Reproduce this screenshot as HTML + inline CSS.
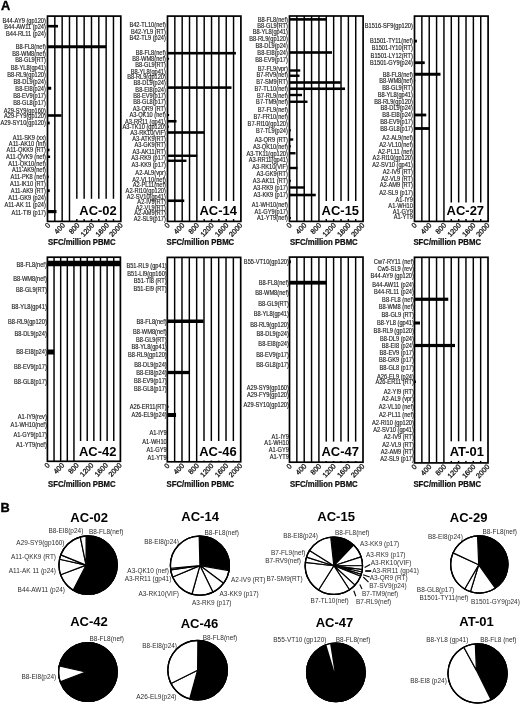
<!DOCTYPE html>
<html lang="en"><head><meta charset="utf-8"><title>Figure</title>
<style>
html,body{margin:0;padding:0;background:#fff;}
body{width:520px;height:704px;overflow:hidden;}
svg{display:block;font-family:"Liberation Sans",sans-serif;}
.l{font-size:6.6px;fill:#1c1c1c;stroke:#1c1c1c;stroke-width:0.15;}
.p{font-size:7.8px;fill:#2e2e2e;}
.t{font-size:7.15px;fill:#111;stroke:#111;stroke-width:0.3;}
.ax{font-size:8.25px;font-weight:bold;fill:#111;stroke:#111;stroke-width:0.25;}
.nm{font-size:13.6px;font-weight:bold;fill:#000;}
.pt{font-size:13.4px;font-weight:bold;fill:#000;}
.pl{font-size:12.8px;font-weight:bold;fill:#000;stroke:#000;stroke-width:0.35;}
.g{stroke:#000;stroke-width:1.45;}
.fr{fill:none;stroke:#000;stroke-width:1.7;}
.b{fill:#000;}
.s{stroke:#000;stroke-width:1.2;stroke-linejoin:round;}
.ns{stroke:none;}
</style></head><body>
<svg width="520" height="704" viewBox="0 0 520 704">
<rect width="520" height="704" fill="#fff"/>
<text class="pl" x="1.1" y="9.5">A</text>
<text class="pl" x="0.5" y="511.7">B</text>
<g>
<path class="g" d="M54.83 16.1V221.4M62.16 16.1V221.4M69.49 16.1V221.4M76.82 16.1V221.4M84.15 16.1V221.4M91.48 16.1V221.4M98.81 16.1V221.4M106.14 16.1V221.4M113.47 16.1V221.4"/>
<rect class="b" x="47.5" y="24.9" width="10.5" height="2.6"/>
<rect class="b" x="47.5" y="45.25" width="58.5" height="3"/>
<rect class="b" x="47.5" y="86.75" width="3.7" height="3"/>
<rect class="b" x="47.5" y="114.2" width="14" height="2.6"/>
<rect class="b" x="47.5" y="121.6" width="2.2" height="2.8"/>
<rect class="b" x="47.5" y="148.7" width="2" height="2.6"/>
<rect class="b" x="47.5" y="155.55" width="2.6" height="2.4"/>
<rect class="b" x="47.5" y="175.65" width="1.2" height="2.2"/>
<rect class="b" x="47.5" y="189.3" width="2.2" height="2.8"/>
<rect class="b" x="47.5" y="210" width="9" height="3.2"/>
<rect x="75" y="198.8" width="45.8" height="20.2" fill="#fff"/>
<text class="nm" transform="translate(116.8 215.1) scale(0.955 1)" text-anchor="end">AC-02</text>
<rect class="fr" x="47.5" y="16.1" width="73.3" height="205.3"/>
<text class="l" transform="translate(45.9 23.15) scale(0.86 1)" text-anchor="end">B44-AY9 (gp120)</text>
<text class="l" transform="translate(45.9 28.95) scale(0.86 1)" text-anchor="end">B44-AW11 (p24)</text>
<text class="l" transform="translate(45.9 35.55) scale(0.86 1)" text-anchor="end">B44-RL11 (p24)</text>
<text class="l" transform="translate(45.9 49.1) scale(0.86 1)" text-anchor="end">B8-FL8(nef)</text>
<text class="l" transform="translate(45.9 55.6) scale(0.86 1)" text-anchor="end">B8-WM8(nef)</text>
<text class="l" transform="translate(45.9 62.35) scale(0.86 1)" text-anchor="end">B8-GL9(RT)</text>
<text class="l" transform="translate(45.9 69.85) scale(0.86 1)" text-anchor="end">B8-YL8(gp41)</text>
<text class="l" transform="translate(45.9 76.85) scale(0.86 1)" text-anchor="end">B8-RL9(gp120)</text>
<text class="l" transform="translate(45.9 83.6) scale(0.86 1)" text-anchor="end">B8-DL9(p24)</text>
<text class="l" transform="translate(45.9 90.6) scale(0.86 1)" text-anchor="end">B8-EI8(p24)</text>
<text class="l" transform="translate(45.9 97.85) scale(0.86 1)" text-anchor="end">B8-EV9(p17)</text>
<text class="l" transform="translate(45.9 104.85) scale(0.86 1)" text-anchor="end">B8-GL8(p17)</text>
<text class="l" transform="translate(45.9 113.35) scale(0.86 1)" text-anchor="end">A29-SY9(gp160)</text>
<text class="l" transform="translate(45.9 118.45) scale(0.86 1)" text-anchor="end">A29-FY9(gp120)</text>
<text class="l" transform="translate(45.9 125.35) scale(0.86 1)" text-anchor="end">A29-SY10(gp120)</text>
<text class="l" transform="translate(45.9 139.85) scale(0.86 1)" text-anchor="end">A11-SK9 (xx)</text>
<text class="l" transform="translate(45.9 146.1) scale(0.86 1)" text-anchor="end">A11-AK10 (Inf)</text>
<text class="l" transform="translate(45.9 152.35) scale(0.86 1)" text-anchor="end">A11-QKK9 (RT)</text>
<text class="l" transform="translate(45.9 159.1) scale(0.86 1)" text-anchor="end">A11-QVK9 (nef)</text>
<text class="l" transform="translate(45.9 165.85) scale(0.86 1)" text-anchor="end">A11-QK10(nef)</text>
<text class="l" transform="translate(45.9 172.35) scale(0.86 1)" text-anchor="end">A11-AK9(nef)</text>
<text class="l" transform="translate(45.9 179.1) scale(0.86 1)" text-anchor="end">A11-PK8 (nef)</text>
<text class="l" transform="translate(45.9 186.05) scale(0.86 1)" text-anchor="end">A11-IK10 (RT)</text>
<text class="l" transform="translate(45.9 193.05) scale(0.86 1)" text-anchor="end">A11-AK9 (RT)</text>
<text class="l" transform="translate(45.9 199.95) scale(0.86 1)" text-anchor="end">A11-GK9 (p24)</text>
<text class="l" transform="translate(45.9 207.25) scale(0.86 1)" text-anchor="end">A11-AK 11 (p24)</text>
<text class="l" transform="translate(45.9 214.85) scale(0.86 1)" text-anchor="end">A11-TI9 (p17)</text>
<text class="t" transform="translate(50.7 225.7) rotate(-47)" text-anchor="end">0</text>
<text class="t" transform="translate(65.36 225.7) rotate(-47)" text-anchor="end">400</text>
<text class="t" transform="translate(80.02 225.7) rotate(-47)" text-anchor="end">800</text>
<text class="t" transform="translate(94.68 225.7) rotate(-47)" text-anchor="end">1200</text>
<text class="t" transform="translate(109.34 225.7) rotate(-47)" text-anchor="end">1600</text>
<text class="t" transform="translate(123.2 225.7) rotate(-47)" text-anchor="end">2000</text>
<text class="ax" transform="translate(48 245.2) scale(0.94 1)">SFC/million PBMC</text>
</g>
<g>
<path class="g" d="M174.84 16.1V221.4M182.18 16.1V221.4M189.52 16.1V221.4M196.86 16.1V221.4M204.2 16.1V221.4M211.54 16.1V221.4M218.88 16.1V221.4M226.22 16.1V221.4M233.56 16.1V221.4"/>
<rect class="b" x="167.5" y="51.9" width="68.4" height="2.6"/>
<rect class="b" x="167.5" y="57.75" width="1.6" height="2"/>
<rect class="b" x="167.5" y="86.3" width="64" height="2.6"/>
<rect class="b" x="167.5" y="114" width="1.6" height="2"/>
<rect class="b" x="167.5" y="119.95" width="9" height="2.6"/>
<rect class="b" x="167.5" y="125.75" width="1.2" height="2"/>
<rect class="b" x="167.5" y="131.2" width="36.75" height="2.6"/>
<rect class="b" x="167.5" y="154.55" width="29.75" height="2.4"/>
<rect class="b" x="167.5" y="159.55" width="19" height="2.4"/>
<rect class="b" x="167.5" y="199.45" width="16.75" height="2.6"/>
<rect x="200" y="201" width="40.9" height="18" fill="#fff"/>
<text class="nm" transform="translate(236.9 215.1) scale(0.955 1)" text-anchor="end">AC-14</text>
<rect class="fr" x="167.5" y="16.1" width="73.4" height="205.3"/>
<text class="l" transform="translate(165.9 27.35) scale(0.86 1)" text-anchor="end">B42-TL10(nef)</text>
<text class="l" transform="translate(165.9 34.1) scale(0.86 1)" text-anchor="end">B42-YL9 (RT)</text>
<text class="l" transform="translate(165.9 40.35) scale(0.86 1)" text-anchor="end">B42-TL9 (p24)</text>
<text class="l" transform="translate(165.9 54.85) scale(0.86 1)" text-anchor="end">B8-FL8(nef)</text>
<text class="l" transform="translate(165.9 61.1) scale(0.86 1)" text-anchor="end">B8-WM8(nef)</text>
<text class="l" transform="translate(165.9 67.35) scale(0.86 1)" text-anchor="end">B8-GL9(RT)</text>
<text class="l" transform="translate(165.9 73.6) scale(0.86 1)" text-anchor="end">B8-YL8(gp41)</text>
<text class="l" transform="translate(165.9 79.1) scale(0.86 1)" text-anchor="end">B8-RL9(gp120)</text>
<text class="l" transform="translate(165.9 85.35) scale(0.86 1)" text-anchor="end">B8-DL9(p24)</text>
<text class="l" transform="translate(165.9 91.85) scale(0.86 1)" text-anchor="end">B8-EI8(p24)</text>
<text class="l" transform="translate(165.9 97.85) scale(0.86 1)" text-anchor="end">B8-EV9(p17)</text>
<text class="l" transform="translate(165.9 103.85) scale(0.86 1)" text-anchor="end">B8-GL8(p17)</text>
<text class="l" transform="translate(165.9 111.1) scale(0.86 1)" text-anchor="end">A3-QR9 (RT)</text>
<text class="l" transform="translate(165.9 117.35) scale(0.86 1)" text-anchor="end">A3-QK10 (nef)</text>
<text class="l" transform="translate(165.9 123.6) scale(0.86 1)" text-anchor="end">A3-RR11 (gp41)</text>
<text class="l" transform="translate(165.9 129.1) scale(0.86 1)" text-anchor="end">A3-TK10 (gp120)</text>
<text class="l" transform="translate(165.9 134.85) scale(0.86 1)" text-anchor="end">A3-RK10(VIF)</text>
<text class="l" transform="translate(165.9 141.1) scale(0.86 1)" text-anchor="end">A3-ATK9(RT)</text>
<text class="l" transform="translate(165.9 147.35) scale(0.86 1)" text-anchor="end">A3-GK9(RT)</text>
<text class="l" transform="translate(165.9 153.6) scale(0.86 1)" text-anchor="end">A3-AK11(RT)</text>
<text class="l" transform="translate(165.9 159.85) scale(0.86 1)" text-anchor="end">A3-RK9 (p17)</text>
<text class="l" transform="translate(165.9 166.6) scale(0.86 1)" text-anchor="end">A3-KK9 (p17)</text>
<text class="l" transform="translate(165.9 175.35) scale(0.86 1)" text-anchor="end">A2-AL9(vpr)</text>
<text class="l" transform="translate(165.9 181.65) scale(0.86 1)" text-anchor="end">A2-VL10(nef)</text>
<text class="l" transform="translate(165.9 187.35) scale(0.86 1)" text-anchor="end">A2-PL11(nef)</text>
<text class="l" transform="translate(165.9 193.05) scale(0.86 1)" text-anchor="end">A2-RI10(gp120)</text>
<text class="l" transform="translate(165.9 198.85) scale(0.86 1)" text-anchor="end">A2-SV10(gp41)</text>
<text class="l" transform="translate(165.9 204.35) scale(0.86 1)" text-anchor="end">A2-IV9(RT)</text>
<text class="l" transform="translate(165.9 209.85) scale(0.86 1)" text-anchor="end">A2-VL9(RT)</text>
<text class="l" transform="translate(165.9 215.35) scale(0.86 1)" text-anchor="end">A2-AM9(RT)</text>
<text class="l" transform="translate(165.9 220.6) scale(0.86 1)" text-anchor="end">A2-SL9(p17)</text>
<text class="t" transform="translate(170.2 225.7) rotate(-47)" text-anchor="end">0</text>
<text class="t" transform="translate(184.88 225.7) rotate(-47)" text-anchor="end">400</text>
<text class="t" transform="translate(199.56 225.7) rotate(-47)" text-anchor="end">800</text>
<text class="t" transform="translate(214.24 225.7) rotate(-47)" text-anchor="end">1200</text>
<text class="t" transform="translate(228.92 225.7) rotate(-47)" text-anchor="end">1600</text>
<text class="t" transform="translate(242.8 225.7) rotate(-47)" text-anchor="end">2000</text>
<text class="ax" transform="translate(166.6 245.2) scale(0.94 1)">SFC/million PBMC</text>
</g>
<g>
<path class="g" d="M296.86 16V221.4M304.22 16V221.4M311.58 16V221.4M318.94 16V221.4M326.3 16V221.4M333.66 16V221.4M341.02 16V221.4M348.38 16V221.4M355.74 16V221.4"/>
<rect class="b" x="289.5" y="18.1" width="37" height="2.6"/>
<rect class="b" x="289.5" y="51.2" width="42.5" height="2.6"/>
<rect class="b" x="289.5" y="69.3" width="10.75" height="2.4"/>
<rect class="b" x="289.5" y="74.55" width="10" height="2.4"/>
<rect class="b" x="289.5" y="81.2" width="51.25" height="2.6"/>
<rect class="b" x="289.5" y="87.45" width="55.5" height="2.6"/>
<rect class="b" x="289.5" y="93.8" width="12.5" height="2.4"/>
<rect class="b" x="289.5" y="100.55" width="18" height="2.4"/>
<rect class="b" x="289.5" y="129.25" width="1.4" height="2"/>
<rect class="b" x="289.5" y="138.3" width="3.75" height="2.4"/>
<rect class="b" x="289.5" y="145.25" width="1.4" height="2"/>
<rect class="b" x="289.5" y="152.05" width="6" height="2.4"/>
<rect class="b" x="289.5" y="166.8" width="8" height="2.4"/>
<rect class="b" x="289.5" y="179.75" width="1.4" height="2"/>
<rect class="b" x="289.5" y="186.3" width="15.5" height="2.4"/>
<rect class="b" x="289.5" y="193.7" width="26.25" height="2.6"/>
<rect class="b" x="289.5" y="217" width="1.4" height="2"/>
<rect x="320" y="201" width="43.1" height="18" fill="#fff"/>
<text class="nm" transform="translate(359.1 215.1) scale(0.955 1)" text-anchor="end">AC-15</text>
<rect class="fr" x="289.5" y="16" width="73.6" height="205.4"/>
<text class="l" transform="translate(287.9 21.55) scale(0.86 1)" text-anchor="end">B8-FL8(nef)</text>
<text class="l" transform="translate(287.9 28.35) scale(0.86 1)" text-anchor="end">B8-GL9(RT)</text>
<text class="l" transform="translate(287.9 34.35) scale(0.86 1)" text-anchor="end">B8-YL8(gp41)</text>
<text class="l" transform="translate(287.9 41.1) scale(0.86 1)" text-anchor="end">B8-RL9(gp120)</text>
<text class="l" transform="translate(287.9 48.1) scale(0.86 1)" text-anchor="end">B8-DL9(p24)</text>
<text class="l" transform="translate(287.9 54.85) scale(0.86 1)" text-anchor="end">B8-EI8(p24)</text>
<text class="l" transform="translate(287.9 61.85) scale(0.86 1)" text-anchor="end">B8-EV9(p17)</text>
<text class="l" transform="translate(287.9 71.1) scale(0.86 1)" text-anchor="end">B7-FL9(vpr)</text>
<text class="l" transform="translate(287.9 76.85) scale(0.86 1)" text-anchor="end">B7-RV9(nef)</text>
<text class="l" transform="translate(287.9 84.1) scale(0.86 1)" text-anchor="end">B7-SM9(RT)</text>
<text class="l" transform="translate(287.9 91.1) scale(0.86 1)" text-anchor="end">B7-TL10(nef)</text>
<text class="l" transform="translate(287.9 97.85) scale(0.86 1)" text-anchor="end">B7-RL9(nef)</text>
<text class="l" transform="translate(287.9 104.35) scale(0.86 1)" text-anchor="end">B7-TM9(nef)</text>
<text class="l" transform="translate(287.9 111.6) scale(0.86 1)" text-anchor="end">B7-FL9(nef)</text>
<text class="l" transform="translate(287.9 118.6) scale(0.86 1)" text-anchor="end">B7-FR10(nef)</text>
<text class="l" transform="translate(287.9 125.85) scale(0.86 1)" text-anchor="end">B7-RI10(gp120)</text>
<text class="l" transform="translate(287.9 132.6) scale(0.86 1)" text-anchor="end">B7-TL9(p24)</text>
<text class="l" transform="translate(287.9 141.85) scale(0.86 1)" text-anchor="end">A3-QR9 (RT)</text>
<text class="l" transform="translate(287.9 148.6) scale(0.86 1)" text-anchor="end">A3-QK10(nef)</text>
<text class="l" transform="translate(287.9 155.6) scale(0.86 1)" text-anchor="end">A3-TK11(gp120)</text>
<text class="l" transform="translate(287.9 162.35) scale(0.86 1)" text-anchor="end">A3-RR11(gp41)</text>
<text class="l" transform="translate(287.9 169.1) scale(0.86 1)" text-anchor="end">A3-RK10(VIF)</text>
<text class="l" transform="translate(287.9 176.1) scale(0.86 1)" text-anchor="end">A3-GK9(RT)</text>
<text class="l" transform="translate(287.9 183.1) scale(0.86 1)" text-anchor="end">A3-AK11 (RT)</text>
<text class="l" transform="translate(287.9 189.85) scale(0.86 1)" text-anchor="end">A3-RK9 (p17)</text>
<text class="l" transform="translate(287.9 196.6) scale(0.86 1)" text-anchor="end">A3-KK9 (p17)</text>
<text class="l" transform="translate(287.9 206.6) scale(0.86 1)" text-anchor="end">A1-WH10(nef)</text>
<text class="l" transform="translate(287.9 213.6) scale(0.86 1)" text-anchor="end">A1-GY9(p17)</text>
<text class="l" transform="translate(287.9 220.35) scale(0.86 1)" text-anchor="end">A1-YT9(nef)</text>
<text class="t" transform="translate(292.2 225.7) rotate(-47)" text-anchor="end">0</text>
<text class="t" transform="translate(306.92 225.7) rotate(-47)" text-anchor="end">400</text>
<text class="t" transform="translate(321.64 225.7) rotate(-47)" text-anchor="end">800</text>
<text class="t" transform="translate(336.36 225.7) rotate(-47)" text-anchor="end">1200</text>
<text class="t" transform="translate(351.08 225.7) rotate(-47)" text-anchor="end">1600</text>
<text class="t" transform="translate(365 225.7) rotate(-47)" text-anchor="end">2000</text>
<text class="ax" transform="translate(290.1 245.2) scale(0.94 1)">SFC/million PBMC</text>
</g>
<g>
<path class="g" d="M421.86 16.1V221.4M429.22 16.1V221.4M436.58 16.1V221.4M443.94 16.1V221.4M451.3 16.1V221.4M458.66 16.1V221.4M466.02 16.1V221.4M473.38 16.1V221.4M480.74 16.1V221.4"/>
<rect class="b" x="414.5" y="39.7" width="2.4" height="2.8"/>
<rect class="b" x="414.5" y="61.3" width="10.25" height="2.8"/>
<rect class="b" x="414.5" y="72.75" width="26" height="3"/>
<rect class="b" x="414.5" y="79.7" width="0.8" height="1.6"/>
<rect class="b" x="414.5" y="113.6" width="11.75" height="2.8"/>
<rect class="b" x="414.5" y="127.1" width="15" height="2.8"/>
<rect x="445" y="202.5" width="43.1" height="16.5" fill="#fff"/>
<text class="nm" transform="translate(484.1 215.1) scale(0.955 1)" text-anchor="end">AC-27</text>
<rect class="fr" x="414.5" y="16.1" width="73.6" height="205.3"/>
<text class="l" transform="translate(412.9 28.05) scale(0.86 1)" text-anchor="end">B1516-SF9(gp120)</text>
<text class="l" transform="translate(412.9 43.45) scale(0.86 1)" text-anchor="end">B1501-TY11(nef)</text>
<text class="l" transform="translate(412.9 50.35) scale(0.86 1)" text-anchor="end">B1501-IY10(RT)</text>
<text class="l" transform="translate(412.9 57.95) scale(0.86 1)" text-anchor="end">B1501-LY12(RT)</text>
<text class="l" transform="translate(412.9 65.05) scale(0.86 1)" text-anchor="end">B1501-GY9(p24)</text>
<text class="l" transform="translate(412.9 76.6) scale(0.86 1)" text-anchor="end">B8-FL8(nef)</text>
<text class="l" transform="translate(412.9 82.85) scale(0.86 1)" text-anchor="end">B8-WM8(nef)</text>
<text class="l" transform="translate(412.9 89.85) scale(0.86 1)" text-anchor="end">B8-GL9(RT)</text>
<text class="l" transform="translate(412.9 96.85) scale(0.86 1)" text-anchor="end">B8-YL8(gp41)</text>
<text class="l" transform="translate(412.9 104.1) scale(0.86 1)" text-anchor="end">B8-RL9(gp120)</text>
<text class="l" transform="translate(412.9 110.35) scale(0.86 1)" text-anchor="end">B8-DL9(p24)</text>
<text class="l" transform="translate(412.9 117.35) scale(0.86 1)" text-anchor="end">B8-EI8(p24)</text>
<text class="l" transform="translate(412.9 123.85) scale(0.86 1)" text-anchor="end">B8-EV9(p17)</text>
<text class="l" transform="translate(412.9 130.85) scale(0.86 1)" text-anchor="end">B8-GL8(p17)</text>
<text class="l" transform="translate(412.9 140.35) scale(0.86 1)" text-anchor="end">A2-AL9(nef)</text>
<text class="l" transform="translate(412.9 146.85) scale(0.86 1)" text-anchor="end">A2-VL10(nef)</text>
<text class="l" transform="translate(412.9 153.6) scale(0.86 1)" text-anchor="end">A2-PL11 (nef)</text>
<text class="l" transform="translate(412.9 160.35) scale(0.86 1)" text-anchor="end">A2-RI10(gp120)</text>
<text class="l" transform="translate(412.9 166.85) scale(0.86 1)" text-anchor="end">A2-SV10 (gp41)</text>
<text class="l" transform="translate(412.9 174.35) scale(0.86 1)" text-anchor="end">A2-IV9 (RT)</text>
<text class="l" transform="translate(412.9 180.6) scale(0.86 1)" text-anchor="end">A2-VL9 (RT)</text>
<text class="l" transform="translate(412.9 187.35) scale(0.86 1)" text-anchor="end">A2-AM9 (RT)</text>
<text class="l" transform="translate(412.9 194.85) scale(0.86 1)" text-anchor="end">A2-SL9 (p17)</text>
<text class="l" transform="translate(412.9 202.35) scale(0.86 1)" text-anchor="end">A1-IY9</text>
<text class="l" transform="translate(412.9 207.85) scale(0.86 1)" text-anchor="end">A1-WH10</text>
<text class="l" transform="translate(412.9 213.6) scale(0.86 1)" text-anchor="end">A1-GY9</text>
<text class="l" transform="translate(412.9 219.35) scale(0.86 1)" text-anchor="end">A1-YT9</text>
<text class="t" transform="translate(417.2 225.7) rotate(-47)" text-anchor="end">0</text>
<text class="t" transform="translate(431.92 225.7) rotate(-47)" text-anchor="end">400</text>
<text class="t" transform="translate(446.64 225.7) rotate(-47)" text-anchor="end">800</text>
<text class="t" transform="translate(461.36 225.7) rotate(-47)" text-anchor="end">1200</text>
<text class="t" transform="translate(476.08 225.7) rotate(-47)" text-anchor="end">1600</text>
<text class="t" transform="translate(490 225.7) rotate(-47)" text-anchor="end">2000</text>
<text class="ax" transform="translate(413.4 245.2) scale(0.94 1)">SFC/million PBMC</text>
</g>
<g>
<path class="g" d="M54.04 257.2V461.3M60.67 257.2V461.3M67.31 257.2V461.3M73.95 257.2V461.3M80.58 257.2V461.3M87.22 257.2V461.3M93.85 257.2V461.3M100.49 257.2V461.3M107.13 257.2V461.3M113.76 257.2V461.3"/>
<rect class="b" x="47.4" y="260.75" width="73" height="5.5"/>
<rect class="b" x="47.4" y="349.5" width="6.75" height="5"/>
<rect x="75" y="441" width="45.4" height="20.3" fill="#fff"/>
<text class="nm" transform="translate(116.4 456.2) scale(0.955 1)" text-anchor="end">AC-42</text>
<rect class="fr" x="47.4" y="257.2" width="73" height="204.1"/>
<text class="l" transform="translate(46.8 266.85) scale(0.86 1)" text-anchor="end">B8-FL8(nef)</text>
<text class="l" transform="translate(46.8 281.1) scale(0.86 1)" text-anchor="end">B8-WM8(nef)</text>
<text class="l" transform="translate(46.8 292.35) scale(0.86 1)" text-anchor="end">B8-GL9(RT)</text>
<text class="l" transform="translate(46.8 309.35) scale(0.86 1)" text-anchor="end">B8-YL8(gp41)</text>
<text class="l" transform="translate(46.8 324.35) scale(0.86 1)" text-anchor="end">B8-RL9(gp120)</text>
<text class="l" transform="translate(46.8 336.1) scale(0.86 1)" text-anchor="end">B8-DL9(p24)</text>
<text class="l" transform="translate(46.8 354.35) scale(0.86 1)" text-anchor="end">B8-EI8(p24)</text>
<text class="l" transform="translate(46.8 368.6) scale(0.86 1)" text-anchor="end">B8-EV9(p17)</text>
<text class="l" transform="translate(46.8 384.35) scale(0.86 1)" text-anchor="end">B8-GL8(p17)</text>
<text class="l" transform="translate(46.8 418.6) scale(0.86 1)" text-anchor="end">A1-IY9(rev)</text>
<text class="l" transform="translate(46.8 426.6) scale(0.86 1)" text-anchor="end">A1-WH10(nef)</text>
<text class="l" transform="translate(46.8 436.6) scale(0.86 1)" text-anchor="end">A1-GY9(p17)</text>
<text class="l" transform="translate(46.8 446.6) scale(0.86 1)" text-anchor="end">A1-YT9(nef)</text>
<text class="t" transform="translate(50.1 465.6) rotate(-47)" text-anchor="end">0</text>
<text class="t" transform="translate(64.7 465.6) rotate(-47)" text-anchor="end">400</text>
<text class="t" transform="translate(79.3 465.6) rotate(-47)" text-anchor="end">800</text>
<text class="t" transform="translate(93.9 465.6) rotate(-47)" text-anchor="end">1200</text>
<text class="t" transform="translate(108.5 465.6) rotate(-47)" text-anchor="end">1600</text>
<text class="t" transform="translate(122.3 465.6) rotate(-47)" text-anchor="end">2000</text>
<text class="ax" transform="translate(48 487.2) scale(0.94 1)">SFC/million PBMC</text>
</g>
<g>
<path class="g" d="M174.64 257.4V461.8M181.98 257.4V461.8M189.32 257.4V461.8M196.66 257.4V461.8M204 257.4V461.8M211.34 257.4V461.8M218.68 257.4V461.8M226.02 257.4V461.8M233.36 257.4V461.8"/>
<rect class="b" x="167.3" y="319.5" width="36.25" height="3.5"/>
<rect class="b" x="167.3" y="370.85" width="22" height="3.3"/>
<rect class="b" x="167.3" y="405.75" width="1.2" height="2"/>
<rect class="b" x="167.3" y="413" width="8.75" height="4"/>
<rect x="198.5" y="441" width="42.2" height="19.6" fill="#fff"/>
<text class="nm" transform="translate(236.7 456.2) scale(0.955 1)" text-anchor="end">AC-46</text>
<rect class="fr" x="167.3" y="257.4" width="73.4" height="204.4"/>
<text class="l" transform="translate(166.7 267.85) scale(0.86 1)" text-anchor="end">B51-RL9 (gp41)</text>
<text class="l" transform="translate(166.7 275.6) scale(0.86 1)" text-anchor="end">B51-LI9(gp160)</text>
<text class="l" transform="translate(166.7 283.1) scale(0.86 1)" text-anchor="end">B51-TI8 (RT)</text>
<text class="l" transform="translate(166.7 290.6) scale(0.86 1)" text-anchor="end">B51-EI9 (RT)</text>
<text class="l" transform="translate(166.7 323.6) scale(0.86 1)" text-anchor="end">B8-FL8(nef)</text>
<text class="l" transform="translate(166.7 333.6) scale(0.86 1)" text-anchor="end">B8-WM8(nef)</text>
<text class="l" transform="translate(166.7 341.6) scale(0.86 1)" text-anchor="end">B8-GL9(RT)</text>
<text class="l" transform="translate(166.7 349.1) scale(0.86 1)" text-anchor="end">B8-YL8(gp41)</text>
<text class="l" transform="translate(166.7 357.35) scale(0.86 1)" text-anchor="end">B8-RL9(gp120)</text>
<text class="l" transform="translate(166.7 366.6) scale(0.86 1)" text-anchor="end">B8-DL9(p24)</text>
<text class="l" transform="translate(166.7 374.85) scale(0.86 1)" text-anchor="end">B8-EI8(p24)</text>
<text class="l" transform="translate(166.7 382.6) scale(0.86 1)" text-anchor="end">B8-EV9(p17)</text>
<text class="l" transform="translate(166.7 390.6) scale(0.86 1)" text-anchor="end">B8-GL8(p17)</text>
<text class="l" transform="translate(166.7 409.1) scale(0.86 1)" text-anchor="end">A26-ER11(RT)</text>
<text class="l" transform="translate(166.7 417.35) scale(0.86 1)" text-anchor="end">A26-EL9(p24)</text>
<text class="l" transform="translate(166.7 434.85) scale(0.86 1)" text-anchor="end">A1-IY9</text>
<text class="l" transform="translate(166.7 443.6) scale(0.86 1)" text-anchor="end">A1-WH10</text>
<text class="l" transform="translate(166.7 452.35) scale(0.86 1)" text-anchor="end">A1-GY9</text>
<text class="l" transform="translate(166.7 460.35) scale(0.86 1)" text-anchor="end">A1-YT9</text>
<text class="t" transform="translate(170 466.1) rotate(-47)" text-anchor="end">0</text>
<text class="t" transform="translate(184.68 466.1) rotate(-47)" text-anchor="end">400</text>
<text class="t" transform="translate(199.36 466.1) rotate(-47)" text-anchor="end">800</text>
<text class="t" transform="translate(214.04 466.1) rotate(-47)" text-anchor="end">1200</text>
<text class="t" transform="translate(228.72 466.1) rotate(-47)" text-anchor="end">1600</text>
<text class="t" transform="translate(242.6 466.1) rotate(-47)" text-anchor="end">2000</text>
<text class="ax" transform="translate(166.6 487.2) scale(0.94 1)">SFC/million PBMC</text>
</g>
<g>
<path class="g" d="M296.85 257.1V462.2M304.2 257.1V462.2M311.55 257.1V462.2M318.9 257.1V462.2M326.25 257.1V462.2M333.6 257.1V462.2M340.95 257.1V462.2M348.3 257.1V462.2M355.65 257.1V462.2"/>
<rect class="b" x="289.5" y="260.25" width="1.4" height="3"/>
<rect class="b" x="289.5" y="280.8" width="36.9" height="3.8"/>
<rect x="321" y="441.6" width="42" height="19.4" fill="#fff"/>
<text class="nm" transform="translate(359 456.2) scale(0.955 1)" text-anchor="end">AC-47</text>
<rect class="fr" x="289.5" y="257.1" width="73.5" height="205.1"/>
<text class="l" transform="translate(288.9 264.1) scale(0.86 1)" text-anchor="end">B55-VT10(gp120)</text>
<text class="l" transform="translate(288.9 284.85) scale(0.86 1)" text-anchor="end">B8-FL8(nef)</text>
<text class="l" transform="translate(288.9 295.35) scale(0.86 1)" text-anchor="end">B8-WM8(nef)</text>
<text class="l" transform="translate(288.9 305.6) scale(0.86 1)" text-anchor="end">B8-GL9(RT)</text>
<text class="l" transform="translate(288.9 315.6) scale(0.86 1)" text-anchor="end">B8-YL8(gp41)</text>
<text class="l" transform="translate(288.9 326.6) scale(0.86 1)" text-anchor="end">B8-RL9(gp120)</text>
<text class="l" transform="translate(288.9 335.6) scale(0.86 1)" text-anchor="end">B8-DL9(p24)</text>
<text class="l" transform="translate(288.9 346.1) scale(0.86 1)" text-anchor="end">B8-EI8(p24)</text>
<text class="l" transform="translate(288.9 356.85) scale(0.86 1)" text-anchor="end">B8-EV9(p17)</text>
<text class="l" transform="translate(288.9 367.35) scale(0.86 1)" text-anchor="end">B8-GL8(p17)</text>
<text class="l" transform="translate(288.9 389.85) scale(0.86 1)" text-anchor="end">A29-SY9(gp160)</text>
<text class="l" transform="translate(288.9 396.85) scale(0.86 1)" text-anchor="end">A29-FY9(gp120)</text>
<text class="l" transform="translate(288.9 406.85) scale(0.86 1)" text-anchor="end">A29-SY10(gp120)</text>
<text class="l" transform="translate(288.9 438.6) scale(0.86 1)" text-anchor="end">A1-IY9</text>
<text class="l" transform="translate(288.9 445.35) scale(0.86 1)" text-anchor="end">A1-WH10</text>
<text class="l" transform="translate(288.9 451.85) scale(0.86 1)" text-anchor="end">A1-GY9</text>
<text class="l" transform="translate(288.9 459.1) scale(0.86 1)" text-anchor="end">A1-YT9</text>
<text class="t" transform="translate(292.2 466.5) rotate(-47)" text-anchor="end">0</text>
<text class="t" transform="translate(306.9 466.5) rotate(-47)" text-anchor="end">400</text>
<text class="t" transform="translate(321.6 466.5) rotate(-47)" text-anchor="end">800</text>
<text class="t" transform="translate(336.3 466.5) rotate(-47)" text-anchor="end">1200</text>
<text class="t" transform="translate(351 466.5) rotate(-47)" text-anchor="end">1600</text>
<text class="t" transform="translate(364.9 466.5) rotate(-47)" text-anchor="end">2000</text>
<text class="ax" transform="translate(290.1 487.2) scale(0.94 1)">SFC/million PBMC</text>
</g>
<g>
<path class="g" d="M421.85 257.3V462.9M429.2 257.3V462.9M436.55 257.3V462.9M443.9 257.3V462.9M451.25 257.3V462.9M458.6 257.3V462.9M465.95 257.3V462.9M473.3 257.3V462.9M480.65 257.3V462.9"/>
<rect class="b" x="414.5" y="297.65" width="33.75" height="3.2"/>
<rect class="b" x="414.5" y="321.5" width="5.5" height="3"/>
<rect class="b" x="414.5" y="343.9" width="40.5" height="3.2"/>
<rect class="b" x="414.5" y="380.55" width="1.4" height="2.4"/>
<rect x="446" y="441.3" width="42" height="19.6" fill="#fff"/>
<text class="nm" transform="translate(484 456.2) scale(0.955 1)" text-anchor="end">AT-01</text>
<rect class="fr" x="414.5" y="257.3" width="73.5" height="205.6"/>
<text class="l" transform="translate(413.9 264.1) scale(0.86 1)" text-anchor="end">Cw7-RY11 (nef)</text>
<text class="l" transform="translate(413.9 271.1) scale(0.86 1)" text-anchor="end">Cw5-SL9 (rev)</text>
<text class="l" transform="translate(413.9 278.1) scale(0.86 1)" text-anchor="end">B44-AY9 (gp120)</text>
<text class="l" transform="translate(413.9 286.6) scale(0.86 1)" text-anchor="end">B44-AW11 (p24)</text>
<text class="l" transform="translate(413.9 294.35) scale(0.86 1)" text-anchor="end">B44-RL11 (p24)</text>
<text class="l" transform="translate(413.9 301.6) scale(0.86 1)" text-anchor="end">B8-FL8 (nef)</text>
<text class="l" transform="translate(413.9 309.1) scale(0.86 1)" text-anchor="end">B8-WM8 (nef)</text>
<text class="l" transform="translate(413.9 317.35) scale(0.86 1)" text-anchor="end">B8-GL9 (RT)</text>
<text class="l" transform="translate(413.9 325.35) scale(0.86 1)" text-anchor="end">B8-YL8 (gp41)</text>
<text class="l" transform="translate(413.9 332.85) scale(0.86 1)" text-anchor="end">B8-RL9 (gp120)</text>
<text class="l" transform="translate(413.9 340.6) scale(0.86 1)" text-anchor="end">B8-DL9 (p24)</text>
<text class="l" transform="translate(413.9 347.85) scale(0.86 1)" text-anchor="end">B8-EI8 (p24)</text>
<text class="l" transform="translate(413.9 354.85) scale(0.86 1)" text-anchor="end">B8-EV9 (p17)</text>
<text class="l" transform="translate(413.9 362.35) scale(0.86 1)" text-anchor="end">B8-GK9 (p17)</text>
<text class="l" transform="translate(413.9 370.35) scale(0.86 1)" text-anchor="end">B8-GL8 (p17)</text>
<text class="l" transform="translate(413.9 378.6) scale(0.86 1)" text-anchor="end">A26-EL9 (p24)</text>
<text class="l" transform="translate(413.9 384.1) scale(0.86 1)" text-anchor="end">A26-ER11 (RT)</text>
<text class="l" transform="translate(413.9 393.6) scale(0.86 1)" text-anchor="end">A2-YI9 (RT)</text>
<text class="l" transform="translate(413.9 401.1) scale(0.86 1)" text-anchor="end">A2-AL9 (vpr)</text>
<text class="l" transform="translate(413.9 408.6) scale(0.86 1)" text-anchor="end">A2-VL10 (nef)</text>
<text class="l" transform="translate(413.9 416.6) scale(0.86 1)" text-anchor="end">A2-PL11 (nef)</text>
<text class="l" transform="translate(413.9 424.85) scale(0.86 1)" text-anchor="end">A2-RI10 (gp120)</text>
<text class="l" transform="translate(413.9 431.6) scale(0.86 1)" text-anchor="end">A2-SV10 (gp41)</text>
<text class="l" transform="translate(413.9 439.35) scale(0.86 1)" text-anchor="end">A2-IV9 (RT)</text>
<text class="l" transform="translate(413.9 446.6) scale(0.86 1)" text-anchor="end">A2-VL9 (RT)</text>
<text class="l" transform="translate(413.9 454.35) scale(0.86 1)" text-anchor="end">A2-AM9 (RT)</text>
<text class="l" transform="translate(413.9 461.1) scale(0.86 1)" text-anchor="end">A2-SL9 (p17)</text>
<text class="t" transform="translate(417.2 467.2) rotate(-47)" text-anchor="end">0</text>
<text class="t" transform="translate(431.9 467.2) rotate(-47)" text-anchor="end">400</text>
<text class="t" transform="translate(446.6 467.2) rotate(-47)" text-anchor="end">800</text>
<text class="t" transform="translate(461.3 467.2) rotate(-47)" text-anchor="end">1200</text>
<text class="t" transform="translate(476 467.2) rotate(-47)" text-anchor="end">1600</text>
<text class="t" transform="translate(489.9 467.2) rotate(-47)" text-anchor="end">2000</text>
<text class="ax" transform="translate(413.4 487.2) scale(0.94 1)">SFC/million PBMC</text>
</g>
<g>
<text class="pt" transform="translate(89.2 522.05) scale(0.975 1)" text-anchor="middle">AC-02</text>
<circle cx="88.1" cy="565.1" r="29.1" fill="#fff" stroke="#000" stroke-width="1.3"/>
<path class="s" fill="#000" d="M86.1 565.1L86.07 536.07A29.1 29.1 0 1 1 73.24 590.12Z"/>
<path class="s" fill="#fff" d="M86.1 565.1L73.24 590.12A29.1 29.1 0 0 1 60.64 574.72Z"/>
<path class="s" fill="#fff" d="M86.1 565.1L60.64 574.72A29.1 29.1 0 0 1 59.59 559.25Z"/>
<path class="s" fill="#fff" d="M86.1 565.1L59.59 559.25A29.1 29.1 0 0 1 60.86 554.86Z"/>
<path class="s" fill="#fff" d="M86.1 565.1L60.86 554.86A29.1 29.1 0 0 1 80.32 537.06Z"/>
<path class="s" fill="#fff" d="M86.1 565.1L80.32 537.06A29.1 29.1 0 0 1 86.07 536.07Z"/>
<circle cx="88.1" cy="565.1" r="29.1" fill="none" stroke="#000" stroke-width="1.3"/>
<text class="p" transform="translate(83.3 532.8) scale(0.83 1)" text-anchor="end">B8-EI8(p24)</text>
<text class="p" transform="translate(88.9 534.4) scale(0.83 1)" text-anchor="start">B8-FL8(nef)</text>
<text class="p" transform="translate(64.5 545.3) scale(0.83 1)" text-anchor="end">A29-SY9(gp160)</text>
<text class="p" transform="translate(56 558.55) scale(0.83 1)" text-anchor="end">A11-QKK9 (RT)</text>
<text class="p" transform="translate(56 573.3) scale(0.83 1)" text-anchor="end">A11-AK 11 (p24)</text>
<text class="p" transform="translate(65 592.3) scale(0.83 1)" text-anchor="end">B44-AW11 (p24)</text>
</g>
<g>
<text class="pt" transform="translate(200.1 521.25) scale(0.975 1)" text-anchor="middle">AC-14</text>
<circle cx="199.9" cy="565.6" r="29.5" fill="#fff" stroke="#000" stroke-width="1.3"/>
<path class="s" fill="#000" d="M199.9 565.6L199.18 536.11A29.5 29.5 0 0 1 228.98 570.57Z"/>
<path class="s" fill="#fff" d="M199.9 565.6L228.98 570.57A29.5 29.5 0 0 1 223.52 583.27Z"/>
<path class="s" fill="#fff" d="M199.9 565.6L223.52 583.27A29.5 29.5 0 0 1 212.83 592.11Z"/>
<path class="s" fill="#fff" d="M199.9 565.6L212.83 592.11A29.5 29.5 0 0 1 191.97 594.01Z"/>
<path class="s" fill="#fff" d="M199.9 565.6L191.97 594.01A29.5 29.5 0 0 1 172.69 576.98Z"/>
<path class="s" fill="#fff" d="M199.9 565.6L172.69 576.98A29.5 29.5 0 0 1 170.71 569.86Z"/>
<path class="s" fill="#fff" d="M199.9 565.6L170.71 569.86A29.5 29.5 0 0 1 170.52 568.27Z"/>
<path class="s" fill="#fff" d="M199.9 565.6L170.52 568.27A29.5 29.5 0 0 1 199.18 536.11Z"/>
<circle cx="199.9" cy="565.6" r="29.5" fill="none" stroke="#000" stroke-width="1.3"/>
<text class="p" transform="translate(204.5 535.3) scale(0.83 1)" text-anchor="start">B8-FL8(nef)</text>
<text class="p" transform="translate(179 543.8) scale(0.83 1)" text-anchor="end">B8-EI8(p24)</text>
<text class="p" transform="translate(169 573.3) scale(0.83 1)" text-anchor="end">A3-QK10 (nef)</text>
<text class="p" transform="translate(171.3 581.4) scale(0.83 1)" text-anchor="end">A3-RR11 (gp41)</text>
<text class="p" transform="translate(179 595.8) scale(0.83 1)" text-anchor="end">A3-RK10(VIF)</text>
<text class="p" transform="translate(192 605.1) scale(0.83 1)" text-anchor="start">A3-RK9 (p17)</text>
<text class="p" transform="translate(219.5 595.8) scale(0.83 1)" text-anchor="start">A3-KK9 (p17)</text>
<text class="p" transform="translate(231 582.3) scale(0.83 1)" text-anchor="start">A2-IV9 (RT)</text>
</g>
<g>
<text class="pt" transform="translate(336.1 521.35) scale(0.975 1)" text-anchor="middle">AC-15</text>
<circle cx="333.85" cy="565.75" r="28.65" fill="#fff" stroke="#000" stroke-width="1.3"/>
<path class="s" fill="#000" d="M333.85 565.75L330.71 537.27A28.65 28.65 0 0 1 353.57 544.97Z"/>
<path class="s" fill="#fff" d="M333.85 565.75L353.57 544.97A28.65 28.65 0 0 1 361.1 556.9Z"/>
<path class="s" fill="#fff" d="M333.85 565.75L361.1 556.9A28.65 28.65 0 0 1 362.5 565.75Z"/>
<path class="s" fill="#fff" d="M333.85 565.75L362.5 565.75A28.65 28.65 0 0 1 362.24 569.59Z"/>
<path class="s" fill="#fff" d="M333.85 565.75L362.24 569.59A28.65 28.65 0 0 1 361.81 572Z"/>
<path class="s" fill="#fff" d="M333.85 565.75L361.81 572A28.65 28.65 0 0 1 361.17 574.37Z"/>
<path class="s" fill="#fff" d="M333.85 565.75L361.17 574.37A28.65 28.65 0 0 1 360.52 576.2Z"/>
<path class="s" fill="#fff" d="M333.85 565.75L360.52 576.2A28.65 28.65 0 0 1 354.97 585.11Z"/>
<path class="s" fill="#fff" d="M333.85 565.75L354.97 585.11A28.65 28.65 0 0 1 349.45 589.78Z"/>
<path class="s" fill="#fff" d="M333.85 565.75L349.45 589.78A28.65 28.65 0 0 1 318.54 589.97Z"/>
<path class="s" fill="#fff" d="M333.85 565.75L318.54 589.97A28.65 28.65 0 0 1 305.39 562.46Z"/>
<path class="s" fill="#fff" d="M333.85 565.75L305.39 562.46A28.65 28.65 0 0 1 306.54 557.09Z"/>
<path class="s" fill="#fff" d="M333.85 565.75L306.54 557.09A28.65 28.65 0 0 1 309.55 550.57Z"/>
<path class="s" fill="#fff" d="M333.85 565.75L309.55 550.57A28.65 28.65 0 0 1 330.71 537.27Z"/>
<circle cx="333.85" cy="565.75" r="28.65" fill="none" stroke="#000" stroke-width="1.3"/>
<line x1="364.6" y1="567.6" x2="370.2" y2="564.6" stroke="#000" stroke-width="1.1"/>
<line x1="365.2" y1="571" x2="371.2" y2="571" stroke="#000" stroke-width="1.7"/>
<line x1="363" y1="574.8" x2="369.7" y2="576.9" stroke="#000" stroke-width="1.1"/>
<line x1="363.3" y1="577" x2="368.5" y2="582.2" stroke="#000" stroke-width="1.1"/>
<line x1="359.8" y1="584.4" x2="362" y2="589" stroke="#000" stroke-width="1.1"/>
<line x1="353.8" y1="590.7" x2="355.8" y2="596.2" stroke="#000" stroke-width="1.1"/>
<text class="p" transform="translate(318 538.3) scale(0.83 1)" text-anchor="end">B8-EI8(p24)</text>
<text class="p" transform="translate(335 534.6) scale(0.83 1)" text-anchor="start">B8-FL8(nef)</text>
<text class="p" transform="translate(360 546.3) scale(0.83 1)" text-anchor="start">A3-KK9 (p17)</text>
<text class="p" transform="translate(366 557) scale(0.83 1)" text-anchor="start">A3-RK9 (p17)</text>
<text class="p" transform="translate(370.8 564.8) scale(0.83 1)" text-anchor="start">A3-RK10(VIF)</text>
<text class="p" transform="translate(372.3 573.2) scale(0.83 1)" text-anchor="start">A3-RR11 (gp41)</text>
<text class="p" transform="translate(369.7 580.1) scale(0.83 1)" text-anchor="start">A3-QR9 (RT)</text>
<text class="p" transform="translate(369.2 587.5) scale(0.83 1)" text-anchor="start">B7-SV9(p24)</text>
<text class="p" transform="translate(362 595.5) scale(0.83 1)" text-anchor="start">B7-TM9(nef)</text>
<text class="p" transform="translate(356 604.3) scale(0.83 1)" text-anchor="start">B7-RL9(nef)</text>
<text class="p" transform="translate(348.7 603.2) scale(0.83 1)" text-anchor="end">B7-TL10(nef)</text>
<text class="p" transform="translate(302.6 580.8) scale(0.83 1)" text-anchor="end">B7-SM9(RT)</text>
<text class="p" transform="translate(301 563.4) scale(0.83 1)" text-anchor="end">B7-RV9(nef)</text>
<text class="p" transform="translate(305.5 554.8) scale(0.83 1)" text-anchor="end">B7-FL9(nef)</text>
</g>
<g>
<text class="pt" transform="translate(468.6 521.95) scale(0.975 1)" text-anchor="middle">AC-29</text>
<circle cx="479.3" cy="564.4" r="28.6" fill="#fff" stroke="#000" stroke-width="1.3"/>
<path class="s" fill="#000" d="M478.7 564.8L477.55 535.85A28.6 28.6 0 0 1 495.29 588.11Z"/>
<path class="s" fill="#fff" d="M478.7 564.8L495.29 588.11A28.6 28.6 0 0 1 470.46 591.6Z"/>
<path class="s" fill="#fff" d="M478.7 564.8L470.46 591.6A28.6 28.6 0 0 1 464.7 588.99Z"/>
<path class="s" fill="#fff" d="M478.7 564.8L464.7 588.99A28.6 28.6 0 0 1 453.11 552.9Z"/>
<path class="s" fill="#fff" d="M478.7 564.8L453.11 552.9A28.6 28.6 0 0 1 477.55 535.85Z"/>
<circle cx="479.3" cy="564.4" r="28.6" fill="none" stroke="#000" stroke-width="1.3"/>
<text class="p" transform="translate(462.8 538.6) scale(0.83 1)" text-anchor="end">B8-EI8(p24)</text>
<text class="p" transform="translate(482.4 534.4) scale(0.83 1)" text-anchor="start">B8-FL8(nef)</text>
<text class="p" transform="translate(454.2 591.7) scale(0.83 1)" text-anchor="end">B8-GL8(p17)</text>
<text class="p" transform="translate(468.5 599.8) scale(0.83 1)" text-anchor="end">B1501-TY11(nef)</text>
<text class="p" transform="translate(471 603.7) scale(0.83 1)" text-anchor="start">B1501-GY9(p24)</text>
</g>
<g>
<text class="pt" transform="translate(89 626) scale(0.975 1)" text-anchor="middle">AC-42</text>
<circle cx="87.9" cy="672" r="29.3" fill="#fff" stroke="#000" stroke-width="1.3"/>
<path class="s" fill="#000" d="M85.7 672L59.22 666.01A29.3 29.3 0 1 1 60.26 681.73Z"/>
<path class="s" fill="#fff" d="M85.7 672L60.26 681.73A29.3 29.3 0 0 1 59.22 666.01Z"/>
<circle cx="87.9" cy="672" r="29.3" fill="none" stroke="#000" stroke-width="1.3"/>
<text class="p" transform="translate(89.5 641.05) scale(0.83 1)" text-anchor="start">B8-FL8(nef)</text>
<text class="p" transform="translate(56.25 679.05) scale(0.83 1)" text-anchor="end">B8-EI8(p24)</text>
</g>
<g>
<text class="pt" transform="translate(199.5 627.75) scale(0.975 1)" text-anchor="middle">AC-46</text>
<circle cx="197.6" cy="670.2" r="29.7" fill="#fff" stroke="#000" stroke-width="1.3"/>
<path class="s" fill="#000" d="M197.6 670.2L197.86 640.5A29.7 29.7 0 1 1 189.71 698.83Z"/>
<path class="s" fill="#fff" d="M197.6 670.2L189.71 698.83A29.7 29.7 0 0 1 171.04 683.5Z"/>
<path class="s" fill="#fff" d="M197.6 670.2L171.04 683.5A29.7 29.7 0 0 1 197.86 640.5Z"/>
<circle cx="197.6" cy="670.2" r="29.7" fill="none" stroke="#000" stroke-width="1.3"/>
<text class="p" transform="translate(202.7 640.2) scale(0.83 1)" text-anchor="start">B8-FL8(nef)</text>
<text class="p" transform="translate(177 648.2) scale(0.83 1)" text-anchor="end">B8-EI8(p24)</text>
<text class="p" transform="translate(176.5 699.3) scale(0.83 1)" text-anchor="end">A26-EL9(p24)</text>
</g>
<g>
<text class="pt" transform="translate(334.5 627.25) scale(0.975 1)" text-anchor="middle">AC-47</text>
<circle cx="335.9" cy="672.4" r="29.3" fill="#fff" stroke="#000" stroke-width="1.3"/>
<path class="s" fill="#000" d="M334.4 671.4L330.11 643.68A29.3 29.3 0 1 1 326.36 644.7Z"/>
<path class="ns" fill="#fff" d="M334.4 671.4L326.36 644.7A29.3 29.3 0 0 1 330.11 643.68Z"/>
<circle cx="335.9" cy="672.4" r="29.3" fill="none" stroke="#000" stroke-width="1.3"/>
<text class="p" transform="translate(326.4 641.5) scale(0.83 1)" text-anchor="end">B55-VT10 (gp120)</text>
<text class="p" transform="translate(335.8 641.5) scale(0.83 1)" text-anchor="start">B8-FL8(nef)</text>
</g>
<g>
<text class="pt" transform="translate(476.5 625.65) scale(0.975 1)" text-anchor="middle">AT-01</text>
<circle cx="477.6" cy="673.4" r="29.5" fill="#fff" stroke="#000" stroke-width="1.3"/>
<path class="s" fill="#000" d="M476.4 670.2L475.34 643.99A29.5 29.5 0 0 1 491.08 699.64Z"/>
<path class="s" fill="#fff" d="M476.4 670.2L491.08 699.64A29.5 29.5 0 0 1 463.84 647.3Z"/>
<path class="s" fill="#fff" d="M476.4 670.2L463.84 647.3A29.5 29.5 0 0 1 475.34 643.99Z"/>
<circle cx="477.6" cy="673.4" r="29.5" fill="none" stroke="#000" stroke-width="1.3"/>
<text class="p" transform="translate(468.3 642.3) scale(0.83 1)" text-anchor="end">B8-YL8 (gp41)</text>
<text class="p" transform="translate(480.2 642.3) scale(0.83 1)" text-anchor="start">B8-FL8 (nef)</text>
<text class="p" transform="translate(446.8 683.4) scale(0.83 1)" text-anchor="end">B8-EI8 (p24)</text>
</g>
</svg></body></html>
